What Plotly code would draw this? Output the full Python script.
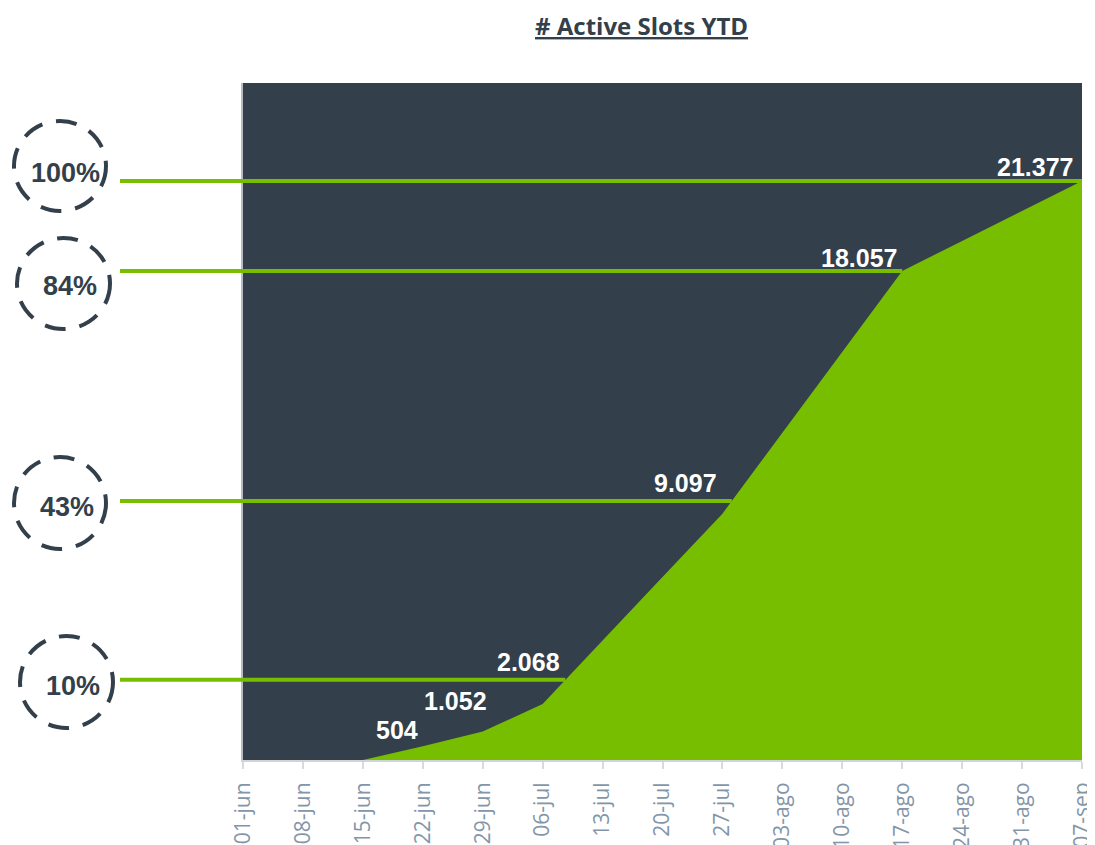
import numpy as np
import plotly.graph_objects as go

# ---------------- data ----------------
weeks = ["01-jun", "08-jun", "15-jun", "22-jun", "29-jun", "06-jul", "13-jul",
         "20-jul", "27-jul", "03-ago", "10-ago", "17-ago", "24-ago", "31-ago", "07-sep"]
active_slots = [0, 0, 0, 504, 1052, 2068, 4430, 6760, 9097, 12080, 15070,
                18057, 19170, 20270, 21377]
labelled_weeks = ["22-jun", "29-jun", "06-jul", "27-jul", "17-ago", "07-sep"]
labelled_values = [504, 1052, 2068, 9097, 18057, 21377]
label_texts = ["504", "1.052", "2.068", "9.097", "18.057", "21.377"]
milestone_pcts = ["100%", "84%", "43%", "10%"]
milestone_levels = [21377, 18057, 9560, 2960]
y_max = 25000

# ---------------- styles ----------------
DARK = "#333f4a"
GREEN = "#78be00"
TICK = "#8396a9"
label_shift = [(-3, 16), (6, 31), (19, 42), (-3, 31), (-3, 13), (-7, 14)]
circle_px = [(12, 119, 108, 213), (15, 236, 112, 331), (12, 455, 108, 551), (18, 634, 115, 730)]
text_px = [(65, 173), (70, 286), (67, 507), (73, 686)]

OFF = 8  # page body margin
W, H = 1095 - OFF, 845 - OFF
L, T = 243 - OFF, 83 - OFF
R, B = 13, 85
pw, ph = W - L - R, H - T - B

def px_to_paper_x(p):
    return (p - OFF - L) / pw

def px_to_paper_y(p):
    return (H - B - (p - OFF)) / ph

fig = go.Figure()
fig.add_trace(go.Scatter(
    x=weeks, y=active_slots, mode="lines", fill="tozeroy",
    line=dict(width=0, color=GREEN), fillcolor=GREEN, hoverinfo="x+y",
))

shapes = []
annotations = []
idx = np.arange(len(weeks))
n_int = len(weeks) - 1
for pct, lvl, cpx, tpx in zip(milestone_pcts, milestone_levels, circle_px, text_px):
    xi = float(np.interp(lvl, active_slots[2:], idx[2:]))
    yp = lvl / y_max
    shapes.append(dict(type="line", xref="paper", yref="paper",
                       x0=px_to_paper_x(120), x1=xi / n_int, y0=yp, y1=yp,
                       line=dict(color=GREEN, width=4), layer="above"))
    x0, y0, x1, y1 = cpx
    shapes.append(dict(type="circle", xref="paper", yref="paper",
                       x0=px_to_paper_x(x0 + 2), x1=px_to_paper_x(x1 - 2),
                       y0=px_to_paper_y(y1 - 2), y1=px_to_paper_y(y0 + 2),
                       line=dict(color=DARK, width=4, dash="21px,14px")))
    annotations.append(dict(xref="paper", yref="paper", x=px_to_paper_x(tpx[0]),
                            y=px_to_paper_y(tpx[1]), text=f"<b>{pct}</b>",
                            showarrow=False, xanchor="center", yanchor="middle",
                            font=dict(family="Liberation Sans, Arial", size=27, color=DARK)))

for wk, val, txt, (dx, dy) in zip(labelled_weeks, labelled_values, label_texts, label_shift):
    annotations.append(dict(x=wk, y=val, xref="x", yref="y", text=f"<b>{txt}</b>",
                            showarrow=False, xanchor="right", yanchor="middle",
                            xshift=dx, yshift=dy,
                            font=dict(family="Liberation Sans, Arial", size=25, color="white")))

annotations.append(dict(xref="paper", yref="paper", x=px_to_paper_x(641), y=px_to_paper_y(25),
                        text="<b><u># Active Slots YTD</u></b>", showarrow=False,
                        xanchor="center", yanchor="middle",
                        font=dict(family="Open Sans", size=24, color=DARK)))

fig.update_layout(
    width=W, height=H,
    margin=dict(l=L, r=R, t=T, b=B),
    paper_bgcolor="white", plot_bgcolor=DARK,
    showlegend=False,
    shapes=shapes, annotations=annotations,
    xaxis=dict(type="category", range=[0, n_int], tickangle=-90,
               showgrid=False, zeroline=False, automargin=False,
               showline=True, linecolor="#d0d4d8", linewidth=2,
               ticks="outside", ticklen=7, tickwidth=2, tickcolor="#d7dbdf",
               ticklabelstandoff=5,
               tickfont=dict(family="Open Sans", size=21, color=TICK)),
    yaxis=dict(range=[0, y_max], showgrid=False, zeroline=False, showticklabels=False,
               automargin=False, showline=True, linecolor="#b8bcc0", linewidth=2, ticks=""),
)

fig.write_html("out.html")
